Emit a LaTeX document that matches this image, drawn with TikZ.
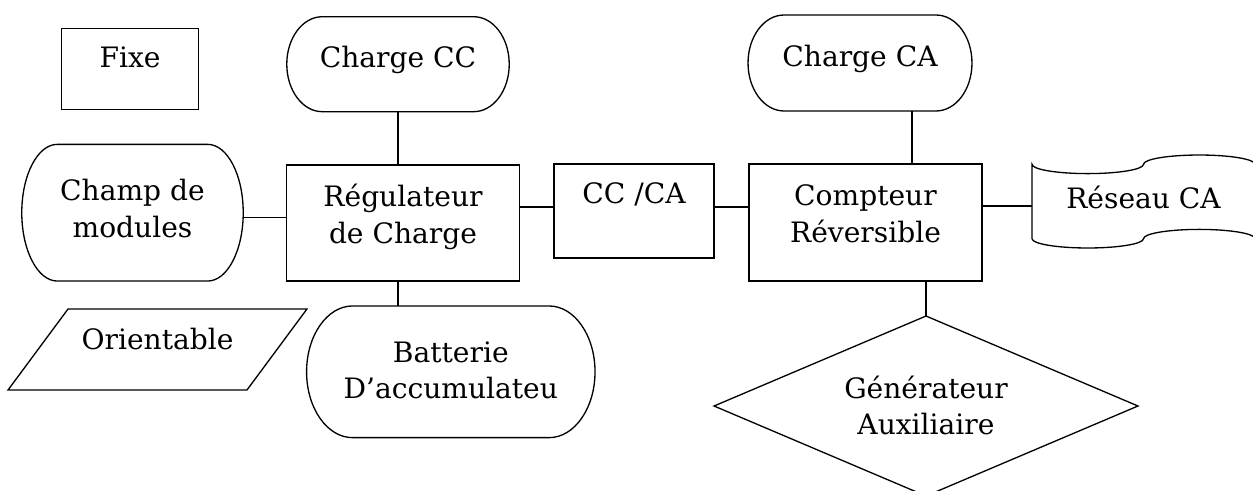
\documentclass[tikz,border=0pt]{standalone}
\usepackage{fontspec}
\setmainfont{DejaVu Serif}
\usetikzlibrary{positioning,shapes.geometric}

% terminal shape drawn round an empty node
\newcommand{\termin}[3]{%
	\draw ([xshift=#2]#1.north west) -- ([xshift=-#2]#1.north east)
		arc[start angle=90,end angle=-90,x radius=#2,y radius=#3]
		-- ([xshift=#2]#1.south west)
		arc[start angle=270,end angle=90,x radius=#2,y radius=#3] -- cycle;}
% punched tape
\newcommand{\ruban}[3]{%
	\draw ([yshift=-#3]#1.north west)
		arc[start angle=180,end angle=360,x radius=#2,y radius=#3]
		arc[start angle=180,end angle=0,x radius=#2,y radius=#3]
		-- ([yshift=#3]#1.south east)
		arc[start angle=0,end angle=180,x radius=#2,y radius=#3]
		arc[start angle=0,end angle=-180,x radius=#2,y radius=#3] -- cycle;}
% parallelogram
\newcommand{\penche}[2]{%
	\draw ([xshift=#2]#1.north west) -- (#1.north east)
		-- ([xshift=-#2]#1.south east) -- (#1.south west) -- cycle;}

\begin{document}
\begin{tikzpicture}[x=0.02cm,y=-0.02cm,line width=0.75pt,
		font=\fontsize{16}{20.8}\selectfont,
		box/.style={draw,rectangle,inner sep=0pt,outer sep=0pt},
		forme/.style={rectangle,inner sep=0pt,outer sep=0pt},
		losange/.style={draw,diamond,inner sep=0pt,outer sep=0pt},
		txt/.style={align=center,inner sep=0pt}]
	\useasboundingbox (0,0) rectangle (1253,490);

	\node[box, minimum width=2.73cm, minimum height=1.62cm] (fixe) at (130,68.8) {};
	\node[txt, below=0.35cm] (fixe-t) at (fixe.north) {Fixe};

	\node[forme, minimum width=4.43cm, minimum height=2.734cm] (champ) at (132.5,212.7) {};
	\termin{champ}{0.71cm}{1.367cm}
	\node[txt, below=0.69cm] (champ-t) at (champ.north) {Champ de\\modules};

	\node[forme, minimum width=5.98cm, minimum height=1.62cm] (orient) at (157.5,349.5) {};
	\penche{orient}{1.2cm}
	\node[txt, below=0.36cm] (orient-t) at (orient.north) {Orientable};

	\node[forme, minimum width=4.45cm, minimum height=1.9cm] (chcc) at (398,64.2) {};
	\termin{chcc}{0.71cm}{0.95cm}
	\node[txt, below=0.58cm] (chcc-t) at (chcc.north) {Charge CC};

	\node[box, minimum width=4.65cm, minimum height=2.32cm] (reg) at (403,223) {};
	\node[txt, below=0.37cm] (reg-t) at (reg.north) {Régulateur\\de Charge};

	\node[forme, minimum width=5.77cm, minimum height=2.634cm] (batt) at (450.8,371.8) {};
	\termin{batt}{0.92cm}{1.317cm}
	\node[txt, below=0.7cm] (batt-t) at (batt.north) {Batterie\\D’accumulateu};

	\node[box, minimum width=3.2cm, minimum height=1.88cm] (ccca) at (634,211) {};
	\node[txt, below=0.36cm] (ccca-t) at (ccca.north) {CC /CA};

	\node[forme, minimum width=4.48cm, minimum height=1.92cm] (chca) at (860,63) {};
	\termin{chca}{0.72cm}{0.96cm}
	\node[txt, below=0.59cm] (chca-t) at (chca.north) {Charge CA};

	\node[box, minimum width=4.66cm, minimum height=2.34cm] (compteur) at (865.5,222.5) {};
	\node[txt, below=0.4cm] (compteur-t) at (compteur.north) {Compteur\\Réversible};

	\node[forme, minimum width=4.46cm, minimum height=1.86cm] (reseau) at (1143.5,201.5) {};
	\ruban{reseau}{1.115cm}{0.186cm}
	\node[txt, below=0.6cm] (reseau-t) at (reseau.north) {Réseau CA};

	\node[losange, minimum width=8.48cm, minimum height=3.6cm] (gen) at (926,406) {};
	\node[txt, below=1.18cm] (gen-t) at (gen.north) {Générateur\\Auxiliaire};

	\path [-] (chcc.south) edge (chcc.south |- reg.north);
	\path [-] ([xshift=-0.1cm]reg.south) edge ([xshift=-0.1cm]reg.south |- batt.north);
	\path [-] ([yshift=-0.1cm]champ.east) edge ([yshift=-0.1cm]champ.east -| reg.west);
	\path [-] ([yshift=0.08cm]ccca.west -| reg.east) edge ([yshift=0.08cm]ccca.west);
	\path [-] ([yshift=0.08cm]ccca.east) edge ([yshift=0.08cm]ccca.east -| compteur.west);
	\path [-] ([xshift=1.04cm]chca.south) edge ([xshift=1.04cm]chca.south |- compteur.north);
	\path [-] ([yshift=-0.09cm]reseau.west -| compteur.east) edge ([yshift=-0.09cm]reseau.west);
	\path [-] (gen.north |- compteur.south) edge (gen.north);
\end{tikzpicture}
\end{document}
